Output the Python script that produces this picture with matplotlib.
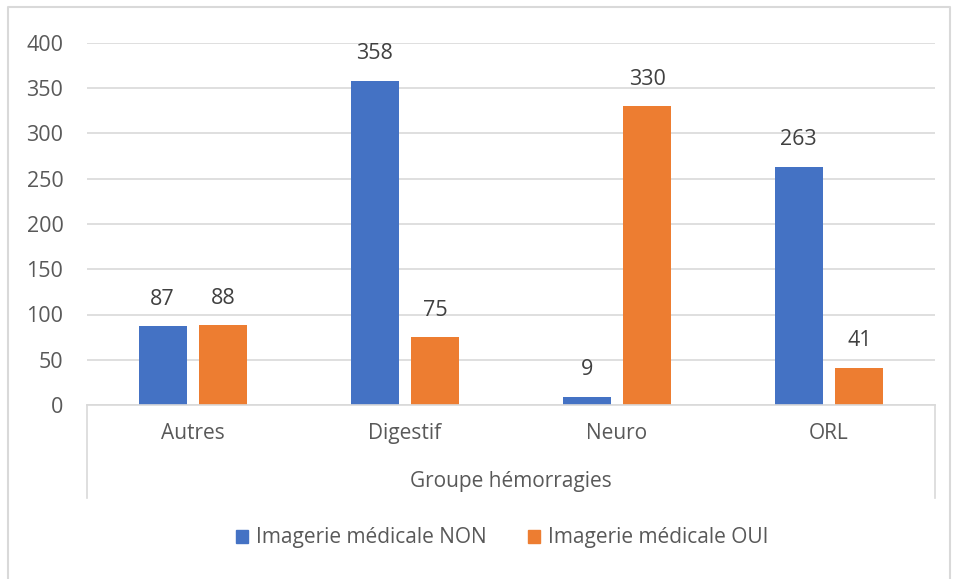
import numpy as np
import matplotlib
matplotlib.use('Agg')
import matplotlib.pyplot as plt
from matplotlib.patches import Patch
from matplotlib.lines import Line2D

plt.rcParams['font.family'] = ['Open Sans', 'DejaVu Sans']

categories = ['Autres', 'Digestif', 'Neuro', 'ORL']
non_values = [87, 358, 9, 263]
oui_values = [88, 75, 330, 41]
series_names = ['Imagerie médicale NON', 'Imagerie médicale OUI']
colors = ['#4472C4', '#ED7D31']
text_col = '#595959'
grid_col = '#D9D9D9'
num_fs = 15.5
txt_fs = 15

W, H = 956, 579
fig = plt.figure(figsize=(W / 100, H / 100), dpi=100)
ax = fig.add_axes([87 / W, (H - 405) / H, (935 - 87) / W, (405 - 43) / H])

x = np.arange(len(categories))
width = 0.227
off = 0.03 + width / 2
b1 = ax.bar(x - off, non_values, width, color=colors[0])
b2 = ax.bar(x + off, oui_values, width, color=colors[1])

for bars in (b1, b2):
    for rect in bars:
        ax.annotate(f'{rect.get_height():.0f}',
                    (rect.get_x() + rect.get_width() / 2, rect.get_height()),
                    xytext=(0, 19.5), textcoords='offset points',
                    ha='center', va='center', fontsize=num_fs, color='#404040')

ax.set_xlim(-0.5, len(categories) - 0.5)
ax.set_ylim(0, 400)
ax.set_yticks(np.arange(0, 401, 50))
ax.yaxis.grid(True, color=grid_col, linewidth=1.2)
ax.set_axisbelow(True)
for s in ['top', 'right', 'left']:
    ax.spines[s].set_visible(False)
ax.spines['bottom'].set_color(grid_col)
ax.spines['bottom'].set_linewidth(1.2)
ax.tick_params(axis='y', length=0, pad=17, labelsize=num_fs, labelcolor=text_col)
ax.tick_params(axis='x', length=0, pad=13, labelsize=txt_fs, labelcolor=text_col)
ax.set_xticks(x)
ax.set_xticklabels(categories)

# category box lines
for px in (87, 935):
    fig.add_artist(Line2D([px / W, px / W], [(H - 405) / H, (H - 498) / H],
                          color=grid_col, linewidth=1.2))

fig.text(511 / W, 1 - 482 / H, 'Groupe hémorragies', ha='center', va='center',
         fontsize=txt_fs, color=text_col)

handles = [Patch(color=c, label=n) for c, n in zip(colors, series_names)]
fig.legend(handles=handles, loc='center', bbox_to_anchor=(502 / W, 1 - 538 / H),
           ncol=2, frameon=False, fontsize=txt_fs, labelcolor=text_col,
           handlelength=0.6, handleheight=0.6, handletextpad=0.35, columnspacing=2.0)

# chart area border
fig.add_artist(Line2D([8 / W, 8 / W, 950 / W, 950 / W], [0, 1 - 7 / H, 1 - 7 / H, 0],
                      color=grid_col, linewidth=1.5))

fig.savefig('out.png', dpi=100)
